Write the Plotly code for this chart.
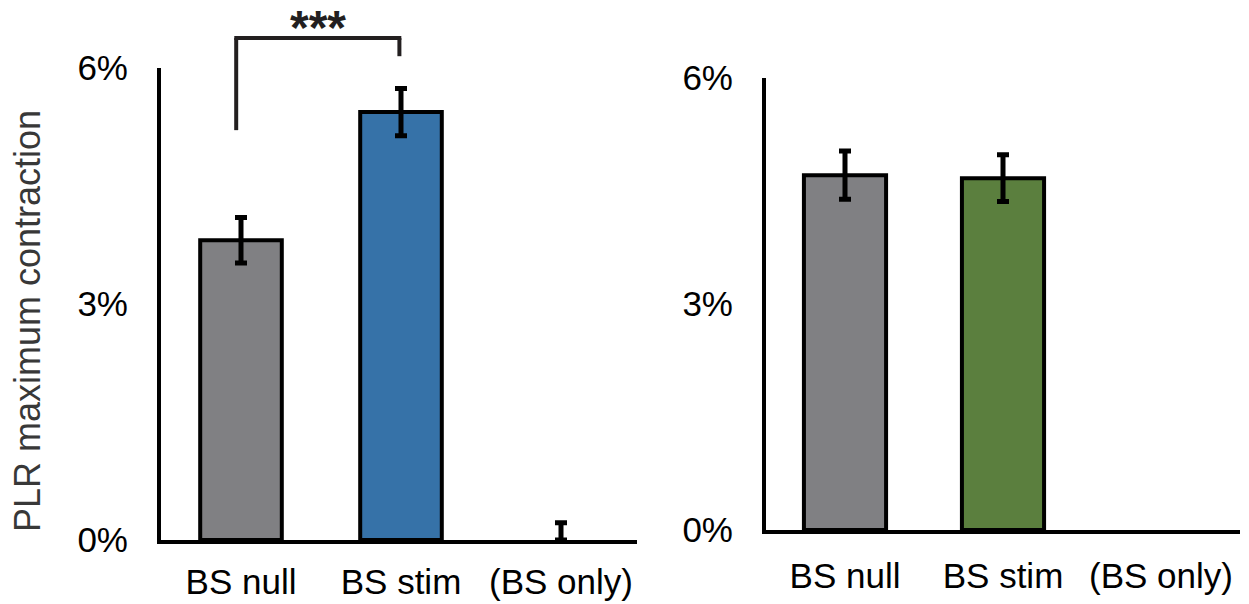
import plotly.graph_objects as go

W, H = 1249, 604

categories = ["BS null", "BS stim", "(BS only)"]
left_values = [3.81, 5.44, 0.0]
left_err_plus = [0.29, 0.30, 0.22]
left_err_minus = [0.29, 0.30, 0.0]
right_values = [4.71, 4.67, None]
right_err = [0.32, 0.31, 0]
y_ticks = [0, 3, 6]
y_tick_labels = ["0%", "3%", "6%"]

left_colors = ["#808083", "#3672a8", "#808083"]
right_colors = ["#808083", "#5b7f3e", "#808083"]

# significance bracket (data units)
sig_x = [-0.03, 0.99]
sig_bottom = [5.21, 6.15]
sig_top = 6.38
sig_label = "***"

# pixel layout
L_X = (161, 637); L_Y = (540, 68)
R_X = (766, 1240); R_Y = (530, 78)

def px_x(a, b):
    return [a / W, b / W]

def px_y(bottom, top):
    return [(H - bottom) / H, (H - top) / H]

FONT = "Arial, Liberation Sans, sans-serif"

fig = go.Figure()
fig.add_trace(go.Bar(
    x=categories, y=left_values, xaxis="x", yaxis="y",
    marker=dict(color=left_colors, line=dict(color="#000000", width=[4, 4, 0])),
    width=0.51,
    error_y=dict(type="data", symmetric=False, array=left_err_plus,
                 arrayminus=left_err_minus, color="#000000", thickness=5, width=6),
    showlegend=False, hoverinfo="skip"))
fig.add_trace(go.Bar(
    x=categories, y=right_values, xaxis="x2", yaxis="y2",
    marker=dict(color=right_colors, line=dict(color="#000000", width=4)),
    width=0.52,
    error_y=dict(type="data", array=right_err, color="#000000", thickness=5, width=6),
    showlegend=False, hoverinfo="skip"))

yl_dom = px_y(*L_Y)

def ly_paper(v):
    return yl_dom[0] + v / 6.0 * (yl_dom[1] - yl_dom[0])

bracket_color = "#231f20"
for xv, yb in zip(sig_x, sig_bottom):
    fig.add_shape(type="line", xref="x", yref="paper", x0=xv, x1=xv,
                  y0=ly_paper(yb), y1=ly_paper(sig_top),
                  line=dict(color=bracket_color, width=4))
fig.add_shape(type="line", xref="x", yref="paper", x0=sig_x[0] - 0.012, x1=sig_x[1] + 0.012,
              y0=ly_paper(sig_top), y1=ly_paper(sig_top),
              line=dict(color=bracket_color, width=4))
fig.add_annotation(x=sum(sig_x) / 2, y=1.0, xref="x", yref="paper",
                   text="<b>" + sig_label + "</b>", showarrow=False,
                   font=dict(family=FONT, size=48, color="#231f20"),
                   xanchor="center", yanchor="top", borderpad=0)

fig.add_annotation(x=27 / W, y=(H - 321) / H, xref="paper", yref="paper",
                   text="PLR maximum contraction", textangle=-90, showarrow=False,
                   font=dict(family=FONT, size=36, color="#383838"),
                   xanchor="center", yanchor="middle")

axis_common = dict(showline=True, linecolor="#000000", linewidth=4, showgrid=False,
                   zeroline=False, ticks="", fixedrange=True, automargin=False)

fig.update_layout(
    width=W, height=H,
    margin=dict(l=0, r=0, t=0, b=0, autoexpand=False),
    paper_bgcolor="white", plot_bgcolor="white",
    font=dict(family=FONT, size=35, color="#000000"),
    xaxis=dict(domain=px_x(*L_X), range=[-0.5, 2.475], anchor="y",
               tickfont=dict(size=35, color="#000000"), ticklabelstandoff=8, **axis_common),
    yaxis=dict(domain=yl_dom, range=[0, 6], anchor="x", tickvals=y_ticks,
               ticktext=y_tick_labels, tickfont=dict(size=35, color="#000000"),
               ticklabelstandoff=22, **axis_common),
    xaxis2=dict(domain=px_x(*R_X), range=[-0.5, 2.5], anchor="y2",
                tickfont=dict(size=35, color="#000000"), ticklabelstandoff=12, **axis_common),
    yaxis2=dict(domain=px_y(*R_Y), range=[0, 6], anchor="x2", tickvals=y_ticks,
                ticktext=y_tick_labels, tickfont=dict(size=35, color="#000000"),
                ticklabelstandoff=22, **axis_common),
)

fig.write_html("out.html", config={"displayModeBar": False},
               post_script="document.body.style.margin='0';document.body.style.overflow='hidden';")
